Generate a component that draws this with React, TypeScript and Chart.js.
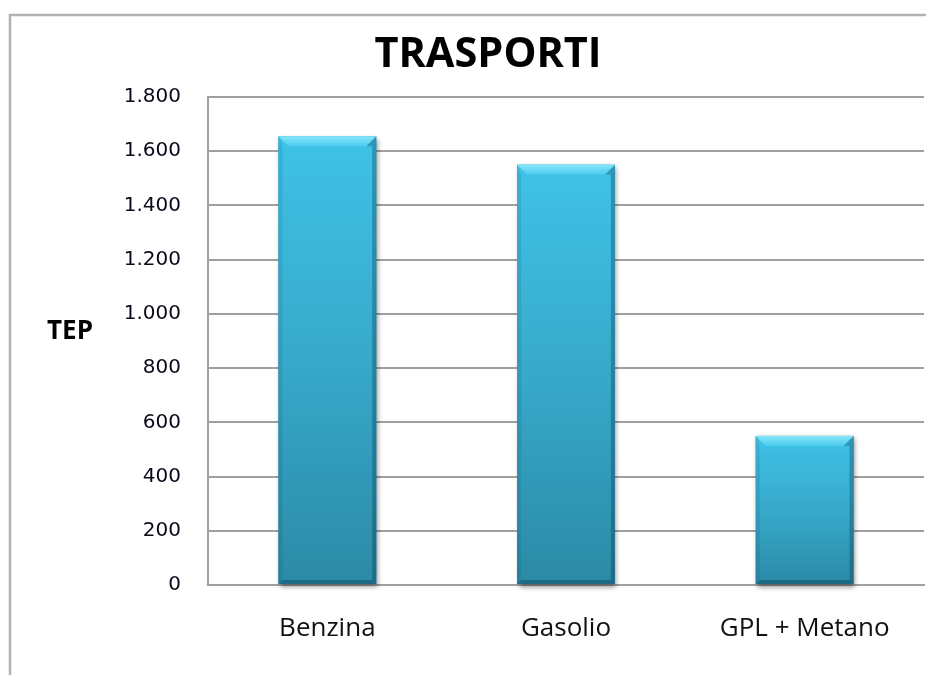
import React, { useEffect, useRef } from "react";
import { Chart, registerables } from "chart.js";

Chart.register(...registerables);

const chartTitle = "TRASPORTI";
const axisTitle = "TEP";
const categories = ["Benzina", "Gasolio", "GPL + Metano"];
const values = [1655, 1550, 550];
const yMin = 0;
const yMax = 1800;
const yStep = 200;

const fmt = (v: number) => String(v).replace(/\B(?=(\d{3})+(?!\d))/g, ".");

const decorations = {
  id: "decorations",
  beforeDraw(chart: any) {
    const { ctx, width, height } = chart;
    ctx.save();
    ctx.fillStyle = "#ffffff";
    ctx.fillRect(0, 0, width, height);
    ctx.strokeStyle = "#b2b2b2";
    ctx.lineWidth = 2.5;
    ctx.beginPath();
    ctx.moveTo(10, height + 2);
    ctx.lineTo(10, 15);
    ctx.lineTo(width + 2, 15);
    ctx.stroke();
    ctx.restore();
  },
  beforeDatasetsDraw(chart: any) {
    const { ctx } = chart;
    const meta = chart.getDatasetMeta(0);
    ctx.save();
    meta.data.forEach((el: any) => {
      const { x, y, base, width } = el.getProps(["x", "y", "base", "width"], true);
      ctx.shadowColor = "rgba(0,0,0,0.45)";
      ctx.shadowBlur = 5;
      ctx.shadowOffsetX = 1.5;
      ctx.shadowOffsetY = 2.5;
      ctx.fillStyle = "#2f95b3";
      ctx.fillRect(x - width / 2, y, width, base - y);
    });
    ctx.restore();
  },
  afterDatasetsDraw(chart: any) {
    const { ctx } = chart;
    const meta = chart.getDatasetMeta(0);
    ctx.save();
    meta.data.forEach((el: any) => {
      const { x, y, base, width } = el.getProps(["x", "y", "base", "width"], true);
      const x0 = x - width / 2;
      const x1 = x + width / 2;
      const top = y;
      const bot = base;
      const b = 10;
      const s = 4;
      const poly = (pts: number[][], fill: any) => {
        ctx.fillStyle = fill;
        ctx.beginPath();
        ctx.moveTo(pts[0][0], pts[0][1]);
        for (let i = 1; i < pts.length; i++) ctx.lineTo(pts[i][0], pts[i][1]);
        ctx.closePath();
        ctx.fill();
      };
      poly([[x0, top], [x0 + s, top + b], [x0 + s, bot - s], [x0, bot]], "rgba(0,40,60,0.10)");
      poly([[x1, top], [x1 - s, top + b], [x1 - s, bot - s], [x1, bot]], "rgba(0,30,50,0.28)");
      poly([[x0, bot], [x1, bot], [x1 - s, bot - s], [x0 + s, bot - s]], "rgba(0,30,50,0.30)");
      const g = ctx.createLinearGradient(0, top, 0, top + b);
      g.addColorStop(0, "#86e6fa");
      g.addColorStop(1, "#4ccbee");
      poly([[x0, top], [x1, top], [x1 - b, top + b], [x0 + b, top + b]], g);
      poly([[x1, top], [x1 - b, top + b], [x1 - s, top + b]], "rgba(0,40,60,0.25)");
    });
    ctx.restore();
  },
  afterDraw(chart: any) {
    const { ctx } = chart;
    ctx.save();
    ctx.fillStyle = "#000000";
    ctx.textAlign = "center";
    ctx.textBaseline = "alphabetic";
    ctx.font = "bold 41.5px 'Open Sans'";
    ctx.fillText(chartTitle, 488, 67);
    ctx.font = "bold 26px 'Open Sans'";
    ctx.fillText(axisTitle, 70, 339);
    ctx.restore();
  },
};

export default function App() {
  const ref = useRef<HTMLCanvasElement | null>(null);
  useEffect(() => {
    if (!ref.current) return;
    const chart = new Chart(ref.current, {
      type: "bar",
      data: {
        labels: categories,
        datasets: [
          {
            data: values,
            borderWidth: 0,
            barPercentage: 0.41,
            categoryPercentage: 1,
            backgroundColor: (c: any) => {
              const ch = c.chart;
              const ys = ch.scales && ch.scales.y;
              if (!ys || c.type !== "data") return "#36a8c8";
              const top = ys.getPixelForValue(c.raw);
              const bottom = ys.getPixelForValue(0);
              if (!isFinite(top) || !isFinite(bottom) || top === bottom) return "#36a8c8";
              const g = ch.ctx.createLinearGradient(0, top, 0, bottom);
              g.addColorStop(0, "#3fc2e7");
              g.addColorStop(0.5, "#37a9ca");
              g.addColorStop(1, "#2b8aa6");
              return g;
            },
          },
        ],
      },
      options: {
        animation: false,
        responsive: false,
        devicePixelRatio: 1,
        layout: { padding: { top: 97, right: 2, bottom: 0, left: 0 } },
        plugins: {
          legend: { display: false },
          tooltip: { enabled: false },
          title: { display: false },
        },
        scales: {
          x: {
            grid: { display: false, drawTicks: false },
            border: { display: true, color: "#a0a0a0", width: 2 },
            ticks: {
              padding: 28,
              color: "#111111",
              font: { family: "'Open Sans'", size: 26 },
            },
            afterFit: (s: any) => {
              s.height = 90;
            },
          },
          y: {
            min: yMin,
            max: yMax,
            grid: { color: "#a0a0a0", lineWidth: 2, drawTicks: false },
            border: { display: true, color: "#a0a0a0", width: 2 },
            ticks: {
              stepSize: yStep,
              padding: 27,
              color: "#0a0a1a",
              font: { family: "'DejaVu Sans'", size: 20 },
              callback: (v: any) => fmt(Number(v)),
            },
            afterFit: (s: any) => {
              s.width = 208;
            },
          },
        },
      },
      plugins: [decorations],
    });
    return () => chart.destroy();
  }, []);
  return (
    <div style={{ position: "fixed", left: 0, top: 0, width: 926, height: 675, background: "#fff" }}>
      <canvas ref={ref} width={926} height={675} style={{ display: "block" }} />
    </div>
  );
}
